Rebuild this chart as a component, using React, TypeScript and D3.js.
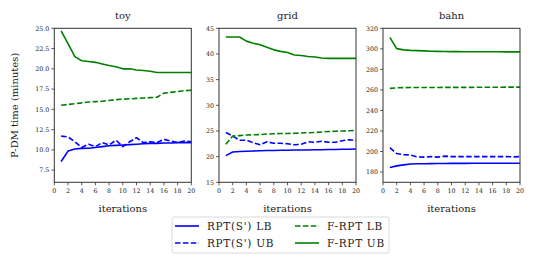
import React from "react";
import * as d3 from "d3";

const iterations = d3.range(1, 21);

const toyRptLB = [8.57, 9.85, 10.1, 10.18, 10.2, 10.3, 10.4, 10.5, 10.55, 10.6, 10.65, 10.7, 10.75, 10.8, 10.8, 10.85, 10.85, 10.9, 10.9, 10.9];
const toyRptUB = [11.7, 11.6, 11.0, 10.3, 10.7, 10.4, 10.9, 10.6, 11.2, 10.4, 11.0, 11.5, 10.9, 11.0, 10.9, 11.3, 11.1, 10.9, 11.1, 11.0];
const toyFLB = [15.5, 15.6, 15.7, 15.8, 15.9, 15.95, 16.0, 16.1, 16.2, 16.25, 16.3, 16.35, 16.4, 16.45, 16.5, 17.0, 17.1, 17.2, 17.3, 17.35];
const toyFUB = [24.67, 23.1, 21.5, 21.0, 20.9, 20.8, 20.6, 20.4, 20.25, 20.0, 20.0, 19.85, 19.8, 19.7, 19.55, 19.55, 19.55, 19.55, 19.55, 19.55];

const gridRptLB = [20.2, 20.9, 21.0, 21.05, 21.1, 21.15, 21.2, 21.2, 21.25, 21.25, 21.3, 21.3, 21.3, 21.35, 21.35, 21.4, 21.4, 21.45, 21.45, 21.5];
const gridRptUB = [24.7, 24.0, 23.2, 23.2, 22.7, 22.3, 22.9, 22.6, 22.6, 22.5, 22.3, 22.4, 22.9, 22.8, 23.0, 22.8, 22.8, 23.1, 23.3, 23.1];
const gridFLB = [22.4, 24.0, 24.1, 24.2, 24.25, 24.3, 24.4, 24.45, 24.5, 24.5, 24.55, 24.6, 24.65, 24.7, 24.8, 24.9, 24.95, 25.0, 25.05, 25.1];
const gridFUB = [43.3, 43.3, 43.3, 42.5, 42.1, 41.8, 41.3, 40.8, 40.5, 40.3, 39.8, 39.7, 39.5, 39.4, 39.2, 39.15, 39.15, 39.15, 39.15, 39.15];

const bahnRptLB = [184.5, 186.0, 187.0, 187.8, 188.0, 188.1, 188.2, 188.3, 188.3, 188.4, 188.4, 188.4, 188.5, 188.5, 188.5, 188.5, 188.5, 188.5, 188.5, 188.5];
const bahnRptUB = [203.7, 198.0, 197.0, 196.5, 194.6, 194.5, 195.0, 194.5, 195.5, 195.0, 195.0, 195.0, 195.0, 195.0, 195.0, 195.0, 195.0, 195.0, 194.8, 195.0];
const bahnFLB = [261.5, 262.0, 262.2, 262.3, 262.3, 262.4, 262.4, 262.4, 262.5, 262.5, 262.5, 262.5, 262.5, 262.6, 262.6, 262.6, 262.6, 262.7, 262.7, 262.7];
const bahnFUB = [311.2, 300.2, 299.0, 298.5, 298.3, 298.0, 297.6, 297.5, 297.4, 297.3, 297.3, 297.2, 297.2, 297.2, 297.1, 297.1, 297.1, 297.0, 297.0, 297.0];

const panelTitles = ["toy", "grid", "bahn"];
const yDomains: [number, number][] = [[6, 25], [15, 45], [170, 320]];
const yTicks = [d3.range(7.5, 25.01, 2.5), d3.range(15, 45.01, 5), d3.range(180, 320.01, 20)];
const yFormats = [d3.format(".1f"), d3.format("d"), d3.format("d")];
const xTicks = d3.range(0, 21, 2);

const seriesNames = ["RPT(S') LB", "RPT(S') UB", "F-RPT LB", "F-RPT UB"];
const seriesColors = ["#0000ff", "#0000ff", "#008000", "#008000"];
const seriesDashed = [false, true, true, false];
const panelData = [
  [toyRptLB, toyRptUB, toyFLB, toyFUB],
  [gridRptLB, gridRptUB, gridFLB, gridFUB],
  [bahnRptLB, bahnRptUB, bahnFLB, bahnFUB],
];

const panelLefts = [54.3, 219, 383];
const panelWidth = 137;
const top = 28.3;
const bottom = 182.3;
const font = "DejaVu Serif";

export default function App() {
  return (
    <svg width={535} height={264} style={{ position: "absolute", left: 0, top: 0 }} fontFamily={font}>
      <rect width={535} height={264} fill="#fff" />
      {panelData.map((series, p) => {
        const x = d3.scaleLinear().domain([0, 20]).range([panelLefts[p], panelLefts[p] + panelWidth]);
        const y = d3.scaleLinear().domain(yDomains[p]).range([bottom, top]);
        const line = d3.line<number>().x((_, i) => x(iterations[i])).y((v) => y(v));
        return (
          <g key={p}>
            {series.map((vals, s) => (
              <path key={s} d={line(vals) || ""} fill="none" stroke={seriesColors[s]} strokeWidth={1.6}
                strokeDasharray={seriesDashed[s] ? "5.5,2.4" : undefined} strokeLinejoin="round" />
            ))}
            <rect x={x(0)} y={top} width={x(20) - x(0)} height={bottom - top} fill="none" stroke="#333" strokeWidth={1} />
            {xTicks.map((t) => (
              <g key={t}>
                <line x1={x(t)} x2={x(t)} y1={bottom} y2={bottom + 3} stroke="#333" strokeWidth={0.8} />
                <text x={x(t)} y={bottom + 11} fontSize={6.3} textAnchor="middle" fill="#222">{t}</text>
              </g>
            ))}
            {yTicks[p].map((t) => (
              <g key={t}>
                <line x1={x(0) - 3} x2={x(0)} y1={y(t)} y2={y(t)} stroke="#333" strokeWidth={0.8} />
                <text x={x(0) - 5} y={y(t) + 2.2} fontSize={6.3} textAnchor="end" fill="#222">{yFormats[p](t)}</text>
              </g>
            ))}
            <text x={(x(0) + x(20)) / 2} y={19} fontSize={10} textAnchor="middle" fill="#222">{panelTitles[p]}</text>
            <text x={(x(0) + x(20)) / 2} y={212} fontSize={10} textAnchor="middle" fill="#222">iterations</text>
          </g>
        );
      })}
      <text transform={`translate(18,${(top + bottom) / 2}) rotate(-90)`} fontSize={10} textAnchor="middle" fill="#222">P-DM time (minutes)</text>
      <g>
        <rect x={172} y={217} width={217} height={36} rx={2} fill="#fff" stroke="#d0d0d0" strokeWidth={0.8} />
        {seriesNames.map((name, i) => {
          const col = Math.floor(i / 2);
          const row = i % 2;
          const lx = col === 0 ? 175 : 295;
          const ly = row === 0 ? 226 : 243;
          return (
            <g key={name}>
              <line x1={lx} x2={lx + 24} y1={ly} y2={ly} stroke={seriesColors[i]} strokeWidth={1.6}
                strokeDasharray={seriesDashed[i] ? "5.5,2.4" : undefined} />
              <text x={lx + 32} y={ly + 3.7} fontSize={10.5} letterSpacing={0.7} fill="#222">{name}</text>
            </g>
          );
        })}
      </g>
    </svg>
  );
}
